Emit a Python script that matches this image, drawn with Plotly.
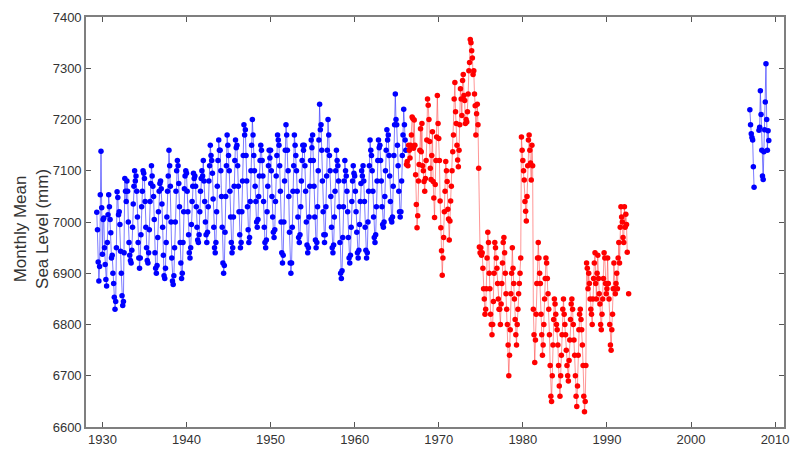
import plotly.graph_objects as go

# ---------------- data (monthly mean sea level, mm) ----------------
# Blue series: May 1929 .. Feb 1966
blue_early_start = (1929, 5)
blue_early = [
    7019, 6985, 6922, 6885, 6913, 7053, 7138, 7028,                      # 1929 May-Dec
    6937, 7005, 7008, 6950, 6917, 6888, 6875, 6960, 7014, 7053, 7030, 7005,  # 1930
    6979, 6930, 6935, 6900, 6880, 6853, 6830, 6845, 6950, 7059, 7048, 7014,  # 1931
    7020, 6995, 6943, 6900, 6856, 6837, 6845, 6940, 7085, 7060, 7040, 7080,  # 1932
    7060, 7000, 6960, 6935, 6925, 6920, 6945, 6990, 7035, 7070, 7100, 7080,  # 1933
    7090, 7060, 7010, 6960, 6930, 6910, 6930, 6975, 7030, 7060, 7100, 7095,  # 1934
    7085, 7040, 6990, 6950, 6925, 6920, 6940, 6985, 7040, 7075, 7110, 7090,  # 1935
    7070, 7050, 7005, 6940, 6910, 6900, 6915, 6970, 7020, 7060, 7075, 7080,  # 1936
    7065, 7035, 6990, 6935, 6895, 6890, 6910, 6960, 7010, 7060, 7090, 7140,  # 1937
    7110, 7070, 7000, 6930, 6885, 6878, 6895, 6950, 7000, 7060, 7100, 7120,  # 1938
    7110, 7075, 7030, 6960, 6920, 6890, 6900, 6960, 7020, 7065, 7090, 7100,  # 1939
    7095, 7060, 7020, 6975, 6940, 6930, 6950, 6995, 7040, 7070, 7095, 7085,  # 1940
    7090, 7070, 7030, 6990, 6965, 6960, 6975, 7020, 7060, 7085, 7100, 7090,  # 1941
    7120, 7080, 7040, 7000, 6975, 6960, 6980, 7030, 7080, 7110, 7150, 7130,  # 1942
    7120, 7095, 7045, 6990, 6950, 6940, 6960, 7020, 7070, 7120, 7160, 7140,  # 1943
    7140, 7100, 7050, 6990, 6920, 6900, 6915, 6980, 7050, 7110, 7170, 7150,  # 1944
    7130, 7100, 7060, 7010, 6960, 6940, 6950, 7010, 7070, 7120, 7160, 7145,  # 1945
    7150, 7110, 7070, 7020, 6975, 6950, 6960, 7020, 7080, 7130, 7190, 7170,  # 1946
    7180, 7130, 7080, 7030, 6985, 6960, 6970, 7040, 7100, 7150, 7200, 7170,  # 1947
    7130, 7100, 7070, 7040, 7000, 6990, 7005, 7050, 7090, 7120, 7150, 7140,  # 1948
    7120, 7090, 7040, 6990, 6960, 6950, 6965, 7020, 7070, 7110, 7140, 7125,  # 1949
    7140, 7100, 7050, 7010, 6980, 6970, 6985, 7040, 7090, 7130, 7170, 7160,  # 1950
    7150, 7110, 7060, 7000, 6940, 6920, 6935, 7000, 7080, 7140, 7190, 7170,  # 1951
    7140, 7100, 7050, 6980, 6920, 6900, 6920, 6990, 7060, 7110, 7170, 7150,  # 1952
    7130, 7100, 7060, 7010, 6970, 6960, 6975, 7030, 7080, 7120, 7150, 7140,  # 1953
    7150, 7110, 7060, 7000, 6955, 6940, 6950, 7010, 7070, 7120, 7160, 7145,  # 1954
    7170, 7120, 7070, 7010, 6965, 6950, 6960, 7030, 7100, 7160, 7230, 7180,  # 1955
    7190, 7140, 7080, 7020, 6975, 6960, 6975, 7030, 7090, 7140, 7200, 7170,  # 1956
    7130, 7100, 7050, 6990, 6950, 6940, 6955, 7010, 7060, 7100, 7140, 7120,  # 1957
    7110, 7080, 7030, 6960, 6900, 6890, 6905, 6970, 7030, 7080, 7120, 7100,  # 1958
    7090, 7060, 7020, 6970, 6930, 6920, 6935, 6990, 7040, 7080, 7110, 7095,  # 1959
    7090, 7060, 7020, 6980, 6940, 6930, 6945, 6995, 7040, 7075, 7100, 7090,  # 1960
    7110, 7080, 7040, 6990, 6945, 6930, 6940, 7000, 7060, 7110, 7160, 7140,  # 1961
    7130, 7100, 7060, 7010, 6970, 6960, 6975, 7030, 7080, 7120, 7160, 7145,  # 1962
    7150, 7120, 7080, 7030, 6995, 6990, 7000, 7050, 7100, 7140, 7180, 7160,  # 1963
    7170, 7130, 7090, 7040, 7005, 7000, 7010, 7070, 7130, 7190, 7250, 7200,  # 1964
    7190, 7150, 7110, 7060, 7020, 7010, 7020, 7080, 7130, 7170, 7220, 7190,  # 1965
    7160, 7140,                                                          # 1966 Jan-Feb
]

# Red series: Mar 1966 .. Aug 1992 (None = missing month)
red_start = (1966, 3)
red_values = [
    7112, 7118, 7110, 7150, 7140, 7125, 7150, 7170, 7205, 7202,          # 1966 Mar-Dec
    7144, 7199, 7150, 7092, 7034, 6989, 7012, 7080, 7112, 7140, 7182, 7137,  # 1967
    7192, 7110, 7100, 7079, 7060, 7085, 7120, 7160, 7240, 7228, 7200, 7157,  # 1968
    7105, 7083, 7130, 7176, 7079, 7047, 7009, 7073, 7120, 7166, 7247, 7192,  # 1969
    7163, 7120, 7041, 6989, 6944, 6896, 6930, 6970, 7020, 7060, 7118, 7100,  # 1970
    7079, 7025, 7006, 6965, 7002, 7041, 7070, 7100, 7137, 7170, 7240, 7272,  # 1971
    7215, 7192, 7150, 7121, 7108, 7140, 7190, 7260, 7240, 7208, 7276, 7288,  # 1972
    7247, 7237, 7192, 7200, 7195, 7215, 7250, 7295, 7311, 7356, 7350, 7334,  # 1973
    7320, 7288, 7295, 7250, 7227, 7170, 7211, 7230, 7190, 7105, 6951, 6940,  # 1974
    6950, 6935, 6940, 6910, 6870, 6850, 6820, 6830, 6870, 6930, 6980, 6960,  # 1975
    6900, 6870, 6820, 6800, 6780, 6800, 6845, 6900, 6960, 6950, 6930, 6910,  # 1976
    6880, 6850, 6830, 6830, 6800, 6840, 6880, 6920, 6960, 6970, 6940, 6900,  # 1977
    6860, 6830, 6800, 6760, 6700, 6740, 6790, 6860, 6900, 6950, 6910, 6880,  # 1978
    6850, 6810, 6780, 6760, 6800, 6830, 6860, 6880, 6900, 6930, 7166, 7140,  # 1979
    7120, 7100, 7082, 7040, 7021, 7002, 7050, 7110, 7160, 7170, 7140, 7115,  # 1980
    7082, 7150, 7110, 6830, 6780, 6726, 6770, 6820, 6880, 6930, 6960, 6930,  # 1981
    6900, 6880, 6820, 6780, 6740, 6760, 6800, 6850, 6890, 6930, 6920, 6890,  # 1982
    6860, 6830, 6780, 6720, 6660, 6650, 6700, 6760, 6810, 6850, 6840, 6820,  # 1983
    6800, 6790, 6760, 6720, 6680, 6660, 6700, 6740, 6780, 6830, 6850, 6820,  # 1984
    6800, 6780, 6750, 6720, 6700, 6690, 6730, 6770, 6810, 6840, 6850, 6830,  # 1985
    6800, 6770, 6740, 6700, 6660, 6640, 6680, 6740, 6790, 6820, 6830, 6810,  # 1986
    6790, 6760, 6720, 6660, 6630, 6650, 6720, 6920, 6910, 6870, 6900, 6880,  # 1987
    6850, 6830, 6820, 6800, 6850, 6890, 6920, 6940, 6880, 6850, 6900, 6935,  # 1988
    6890, 6860, 6840, 6800, 6790, 6820, 6850, 6890, 6940, 6930, 6880, 6860,  # 1989
    6870, 6930, 6880, 6850, 6800, 6760, 6750, 6790, 6820, 6870, 6920, 6870,  # 1990
    6860, 6880, 6900, 6870, 6930, 6960, 6920, 6990, 7030, 7010, 7000, 6970,  # 1991
    6960, 7030, 6990, 7015, 6995, 6941, None, 6860,                      # 1992 Jan-Aug
]

# Blue series: Jan 2007 .. Apr 2009 (None = missing month)
blue_recent_start = (2007, 1)
blue_recent = [
    7219, 7190, 7172, 7165, 7160, 7108, 7068,                            # 2007 Jan-Jul
    None, None, None, None, None,                                        # 2007 Aug-Dec
    None, 7179, 7185, 7256, 7210, 7140, 7090, 7083, 7137, 7180, 7234, 7309,  # 2008
    7200, 7140, 7178, 7159,                                              # 2009 Jan-Apr
]

x_tick_vals = [1930, 1940, 1950, 1960, 1970, 1980, 1990, 2000, 2010]
y_tick_vals = [6600, 6700, 6800, 6900, 7000, 7100, 7200, 7300, 7400]


def months(start, n):
    y0, m0 = start
    return [y0 + (m0 - 1 + i) / 12.0 for i in range(n)]


BLUE = "#0000ff"
RED = "#ff0000"

fig = go.Figure()


def add(vals, start, color, linecolor):
    fig.add_trace(go.Scatter(
        x=months(start, len(vals)), y=vals, mode="lines+markers",
        line=dict(color=linecolor, width=0.9),
        marker=dict(color=color, size=5.5, line=dict(width=0)),
        connectgaps=False, showlegend=False, hoverinfo="x+y",
    ))


add(blue_early, blue_early_start, BLUE, "rgba(60,60,255,0.75)")
add(red_values, red_start, RED, "rgba(255,60,60,0.6)")
add(blue_recent, blue_recent_start, BLUE, "rgba(60,60,255,0.75)")

axis_common = dict(
    showline=True, linecolor="#7f7f7f", linewidth=1.6, mirror="ticks",
    ticks="inside", ticklen=5, tickcolor="#555555", tickwidth=1,
    showgrid=False, zeroline=False,
    tickfont=dict(family="Liberation Sans, Arial, sans-serif", size=13, color="#333333"),
)

fig.update_layout(
    width=798, height=456,
    margin=dict(l=86, r=9, t=17, b=24),
    paper_bgcolor="white", plot_bgcolor="white",
    xaxis=dict(range=[1928.05, 2011.06], tickvals=x_tick_vals,
               ticktext=[str(v) for v in x_tick_vals], **axis_common),
    yaxis=dict(range=[6600, 7400], tickvals=y_tick_vals,
               ticktext=[str(v) for v in y_tick_vals], **axis_common),
    annotations=[dict(
        text="Monthly Mean<br>Sea Level (mm)", textangle=-90,
        xref="paper", yref="paper", x=-0.078, y=0.482,
        xanchor="center", yanchor="middle", showarrow=False,
        font=dict(family="Liberation Sans, Arial, sans-serif", size=17, color="#333333"),
    )],
)

fig.write_html("out.html")
